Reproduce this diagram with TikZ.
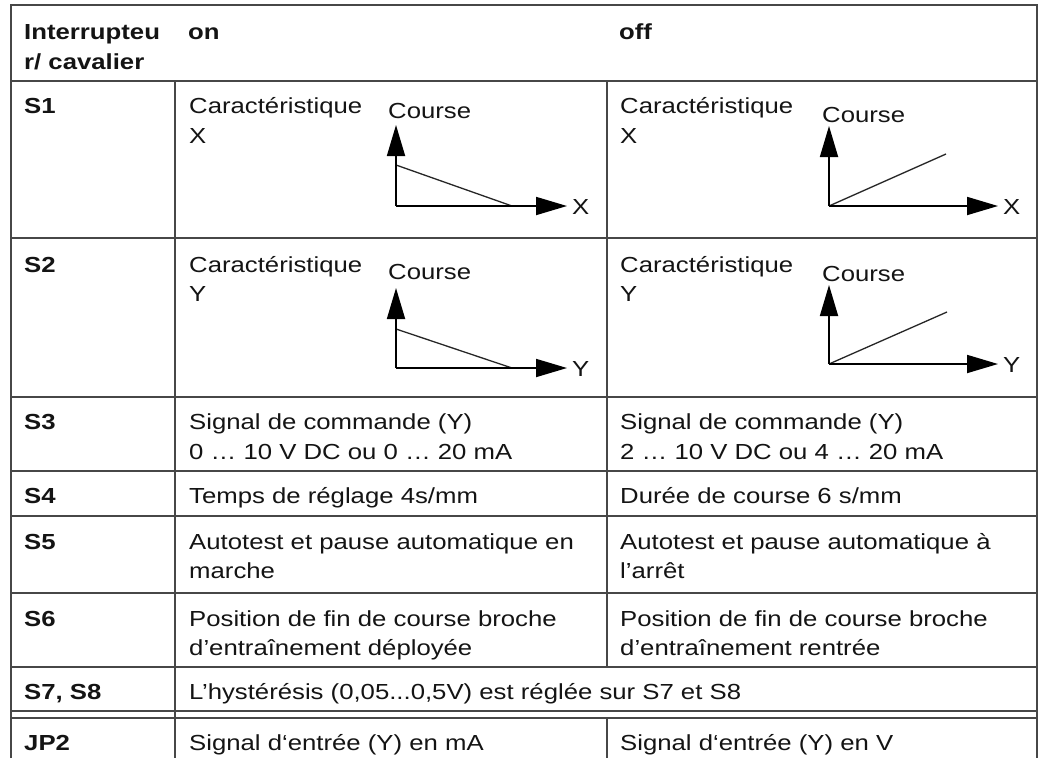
\documentclass[tikz,border=0pt]{standalone}
\usepackage{fontspec}
\setmainfont{Liberation Sans}[FakeStretch=1.18]
\usetikzlibrary{arrows.meta}
\begin{document}
\begin{tikzpicture}[x=1pt,y=-1pt,
  grid/.style={line width=1.6pt, draw=black!72},
  txt/.style={anchor=base west, inner sep=0pt, text=black!92, font=\fontsize{21.8}{30}\selectfont},
  hdr/.style={txt, font=\fontsize{21.8}{30}\selectfont\bfseries},
  axis/.style={line width=1.8pt, draw=black, -{Triangle[length=31pt,width=18pt]}},
  curve/.style={line width=1.3pt, draw=black!85}]
\useasboundingbox (0,0) rectangle (1040,758);
\fill[white] (0,0) rectangle (1040,758);
% grid
\draw[grid] (11,758) -- (11,5) -- (1037,5) -- (1037,758);
\foreach \yy in {81,238,397,471,516,593,667,711,718}
  \draw[grid] (11,\yy) -- (1037,\yy);
\draw[grid] (175,81) -- (175,758);
\draw[grid] (607,81) -- (607,667);
\draw[grid] (607,718) -- (607,758);
% header
\node[hdr] (h1a) at (24,39) {Interrupteu};
\node[hdr] (h1b) at (24,69) {r/ cavalier};
\node[hdr] (h2) at (188,39) {on};
\node[hdr] (h3) at (619,39) {off};
% row labels
\node[hdr] (r1) at (24,113) {S1};
\node[hdr] (r2) at (24,272) {S2};
\node[hdr] (r3) at (24,429) {S3};
\node[hdr] (r4) at (24,503) {S4};
\node[hdr] (r5) at (24,549) {S5};
\node[hdr] (r6) at (24,626) {S6};
\node[hdr] (r7) at (24,699) {S7, S8};
\node[hdr] (r8) at (24,750) {JP2};
% S1
\node[txt] (s1a) at (189,113) {Caractéristique};
\node[txt] (s1b) at (189,143) {X};
\node[txt] (s1c) at (388,118) {Course};
\coordinate (o1) at (396,206);
\draw[curve] (396,165) -- (512,206);
\draw[axis] (o1) -- (396,125);
\draw[axis] (o1) -- (567,206);
\node[txt, anchor=west] (s1x) at (572,207) {X};
\node[txt] (s1d) at (620,113) {Caractéristique};
\node[txt] (s1e) at (620,143) {X};
\node[txt] (s1f) at (822,122) {Course};
\coordinate (o2) at (829,206);
\draw[curve] (o2) -- (946,154);
\draw[axis] (o2) -- (829,126);
\draw[axis] (o2) -- (998,206);
\node[txt, anchor=west] (s1y) at (1003,207) {X};
% S2
\node[txt] (s2a) at (189,272) {Caractéristique};
\node[txt] (s2b) at (189,301) {Y};
\node[txt] (s2c) at (388,279) {Course};
\coordinate (o3) at (396,368);
\draw[curve] (396,329) -- (512,368);
\draw[axis] (o3) -- (396,288);
\draw[axis] (o3) -- (567,368);
\node[txt, anchor=west] (s2x) at (572,369) {Y};
\node[txt] (s2d) at (620,272) {Caractéristique};
\node[txt] (s2e) at (620,301) {Y};
\node[txt] (s2f) at (822,281) {Course};
\coordinate (o4) at (829,364);
\draw[curve] (o4) -- (947,312);
\draw[axis] (o4) -- (829,285);
\draw[axis] (o4) -- (998,364);
\node[txt, anchor=west] (s2y) at (1003,365) {Y};
% S3
\node[txt] (s3a) at (189,429) {Signal de commande (Y)};
\node[txt] (s3b) at (189,459) {0 … 10 V DC ou 0 … 20 mA};
\node[txt] (s3c) at (620,429) {Signal de commande (Y)};
\node[txt] (s3d) at (620,459) {2 … 10 V DC ou 4 … 20 mA};
% S4
\node[txt] (s4a) at (189,503) {Temps de réglage 4s/mm};
\node[txt] (s4b) at (620,503) {Durée de course 6 s/mm};
% S5
\node[txt] (s5a) at (189,549) {Autotest et pause automatique en};
\node[txt] (s5b) at (189,578) {marche};
\node[txt] (s5c) at (620,549) {Autotest et pause automatique à};
\node[txt] (s5d) at (620,578) {l’arrêt};
% S6
\node[txt] (s6a) at (189,626) {Position de fin de course broche};
\node[txt] (s6b) at (189,655) {d’entraînement déployée};
\node[txt] (s6c) at (620,626) {Position de fin de course broche};
\node[txt] (s6d) at (620,655) {d’entraînement rentrée};
% S7
\node[txt] (s7a) at (189,699) {L’hystérésis (0,05...0,5V) est réglée sur S7 et S8};
% JP2
\node[txt] (s8a) at (189,750) {Signal d‘entrée (Y) en mA};
\node[txt] (s8b) at (620,750) {Signal d‘entrée (Y) en V};
\end{tikzpicture}
\end{document}
